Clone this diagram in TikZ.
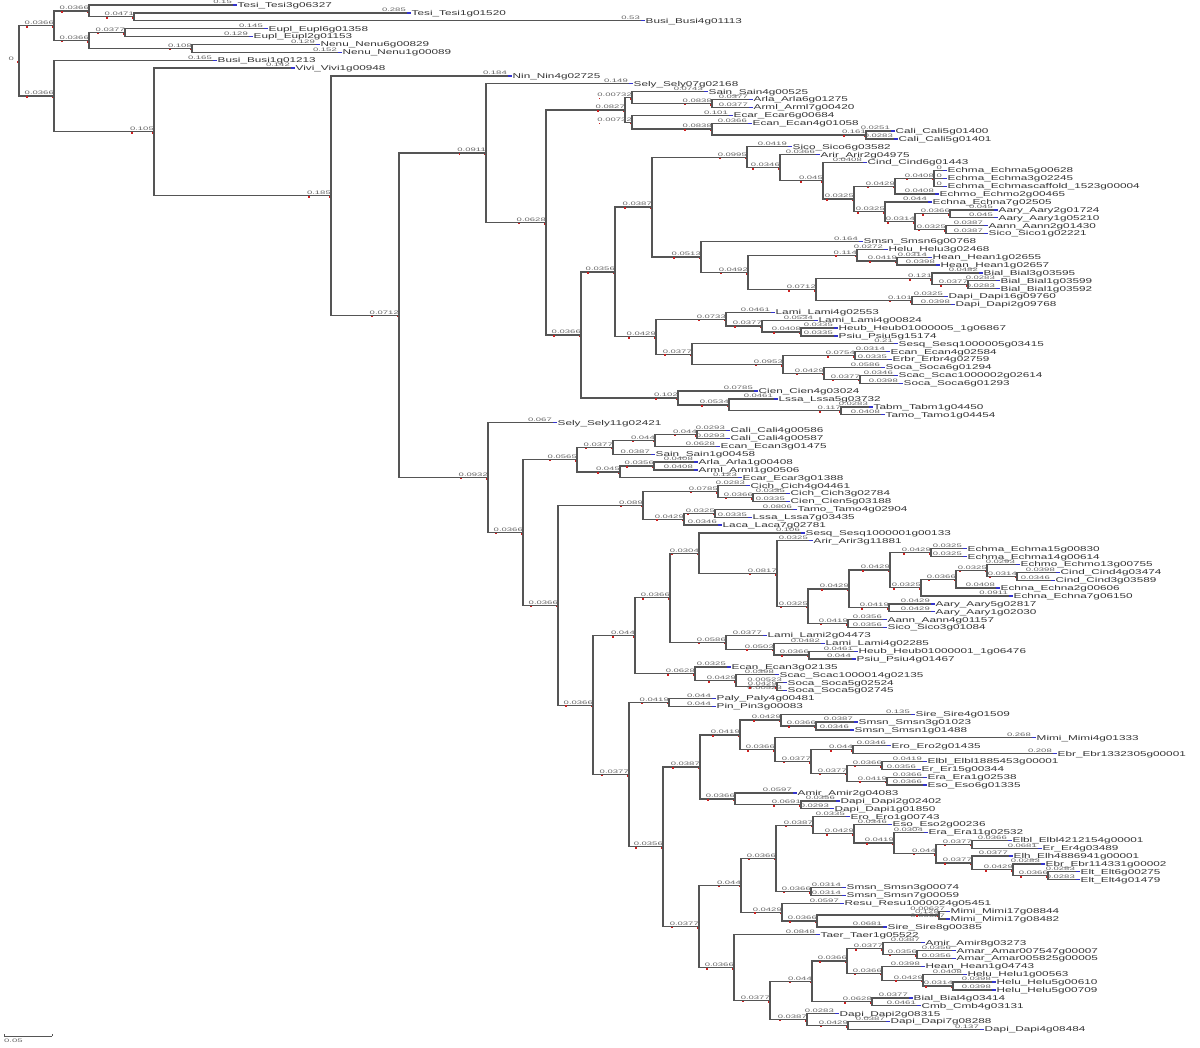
\documentclass[tikz,border=0pt]{standalone}
\usepackage{fontspec}
\newfontfamily\leaffont[FakeStretch=1.68]{Liberation Sans}
\newfontfamily\blfont[FakeStretch=1.9]{Liberation Sans}
\usetikzlibrary{calc}
\definecolor{brc}{HTML}{555555}
\definecolor{blc}{HTML}{666666}
\definecolor{lfc}{HTML}{333333}
\definecolor{tipblue}{HTML}{3333CC}
\definecolor{redc}{HTML}{CC2222}
\newdimen\dA \newdimen\dB
\tikzset{
  br/.style={draw=brc, line width=1.3pt, line cap=rect},
  bl/.style={anchor=south east, inner sep=0pt, yshift=0.9pt, font=\blfont\fontsize{5}{5}\selectfont, text=blc},
  leafl/.style={anchor=base west, inner sep=0pt, font=\leaffont\fontsize{7}{7}\selectfont, text=lfc},
  tipc/.style={draw=tipblue, line width=1.3pt},
}
\newcommand\lf[3]{%
  \coordinate (L#1) at (#2,{5+(#1-1)*7.88});%
  \expandafter\gdef\csname isleaf-L#1\endcsname{}%
  \draw[tipc] (L#1) -- ++(5,0);%
  \node[leafl] (T#1) at ($(L#1)+(5.5,2.4)$) {#3};%
}
\newcommand\brx[3]{%
  \draw[br] (#1 |- #2) -- (#2);%
  \node[bl] (bl-#2) at (#2) {#3};%
  \ifcsname isleaf-#2\endcsname\else
    \fill[redc] ($(bl-#2.south west)+(1.5,1.2)$) rectangle ++(1.6,1.6);%
  \fi
}
\newcommand\br[2]{%
  \pgfextractx{\dA}{\pgfpointanchor{#1}{center}}%
  \pgfextractx{\dB}{\pgfpointanchor{#2}{center}}%
  \pgfmathsetmacro\blv{(\the\dB-\the\dA)/955}%
  \pgfmathtruncatemacro\blp{\blv<0.001 ? 0 : (\blv<0.01 ? 5 : (\blv<0.1 ? 4 : 3))}%
  \brx{#1}{#2}{\pgfmathprintnumber[fixed,precision=\blp,assume math mode=true]{\blv}}%
}
\newcommand\nd[5][]{%
  \coordinate (#2mid) at ($(#4)!0.5!(#5)$);%
  \coordinate (#2) at (#3,0 |- #2mid);%
  \draw[br] (#2 |- #4) -- (#2 |- #5);%
  \ifx\relax#1\relax \br{#2}{#4}\br{#2}{#5}\else \brx{#2}{#4}{#1}\brx{#2}{#5}{#1}\fi
  \fill[redc] ($(#2)+(-2.2,0.5)$) rectangle ++(1.6,1.6);%
}
\begin{document}
\begin{tikzpicture}[x=1pt,y=-1pt]
\useasboundingbox (0,0) rectangle (1200,1048);
\fill[white] (0,0) rectangle (1200,1048);
% ---------- leaves ----------
\lf{1}{232}{Tesi\_Tesi3g06327}
\lf{2}{406}{Tesi\_Tesi1g01520}
\lf{3}{640}{Busi\_Busi4g01113}
\lf{4}{263}{Eupl\_Eupl6g01358}
\lf{5}{248}{Eupl\_Eupl2g01153}
\lf{6}{315}{Nenu\_Nenu6g00829}
\lf{7}{337}{Nenu\_Nenu1g00089}
\lf{8}{212}{Busi\_Busi1g01213}
\lf{9}{290}{Vivi\_Vivi1g00948}
\lf{10}{507}{Nin\_Nin4g02725}
\lf{11}{628}{Sely\_Sely07g02168}
\lf{12}{703}{Sain\_Sain4g00525}
\lf{13}{748}{Arla\_Arla6g01275}
\lf{14}{748}{Arml\_Arml7g00420}
\lf{15}{728}{Ecar\_Ecar6g00684}
\lf{16}{747}{Ecan\_Ecan4g01058}
\lf{17}{890}{Cali\_Cali5g01400}
\lf{18}{893}{Cali\_Cali5g01401}
\lf{19}{787}{Sico\_Sico6g03582}
\lf{20}{815}{Arir\_Arir2g04975}
\lf{21}{862}{Cind\_Cind6g01443}
\lf{22}{942}{Echma\_Echma5g00628}
\lf{23}{942}{Echma\_Echma3g02245}
\lf{24}{942}{Echma\_Echmascaffold\_1523g00004}
\lf{25}{934}{Echmo\_Echmo2g00465}
\lf{26}{927}{Echna\_Echna7g02505}
\lf{27}{993}{Aary\_Aary2g01724}
\lf{28}{993}{Aary\_Aary1g05210}
\lf{29}{983}{Aann\_Aann2g01430}
\lf{30}{983}{Sico\_Sico1g02221}
\lf{31}{858}{Smsn\_Smsn6g00768}
\lf{32}{883}{Helu\_Helu3g02468}
\lf{33}{927}{Hean\_Hean1g02655}
\lf{34}{935}{Hean\_Hean1g02657}
\lf{35}{978}{Bial\_Bial3g03595}
\lf{36}{995}{Bial\_Bial1g03599}
\lf{37}{995}{Bial\_Bial1g03592}
\lf{38}{943}{Dapi\_Dapi16g09760}
\lf{39}{950}{Dapi\_Dapi2g09768}
\lf{40}{770}{Lami\_Lami4g02553}
\lf{41}{813}{Lami\_Lami4g00824}
\lf{42}{833}{Heub\_Heub01000005\_1g06867}
\lf{43}{833}{Psiu\_Psiu5g15174}
\lf{44}{893}{Sesq\_Sesq1000005g03415}
\lf{45}{885}{Ecan\_Ecan4g02584}
\lf{46}{887}{Erbr\_Erbr4g02759}
\lf{47}{880}{Soca\_Soca6g01294}
\lf{48}{893}{Scac\_Scac1000002g02614}
\lf{49}{898}{Soca\_Soca6g01293}
\lf{50}{753}{Cien\_Cien4g03024}
\lf{51}{773}{Lssa\_Lssa5g03732}
\lf{52}{868}{Tabm\_Tabm1g04450}
\lf{53}{880}{Tamo\_Tamo1g04454}
\lf{54}{552}{Sely\_Sely11g02421}
\lf{55}{725}{Cali\_Cali4g00586}
\lf{56}{725}{Cali\_Cali4g00587}
\lf{57}{715}{Ecan\_Ecan3g01475}
\lf{58}{650}{Sain\_Sain1g00458}
\lf{59}{693}{Arla\_Arla1g00408}
\lf{60}{693}{Arml\_Arml1g00506}
\lf{61}{737}{Ecar\_Ecar3g01388}
\lf{62}{745}{Cich\_Cich4g04461}
\lf{63}{785}{Cich\_Cich3g02784}
\lf{64}{785}{Cien\_Cien5g03188}
\lf{65}{792}{Tamo\_Tamo4g02904}
\lf{66}{747}{Lssa\_Lssa7g03435}
\lf{67}{717}{Laca\_Laca7g02781}
\lf{68}{800}{Sesq\_Sesq1000001g00133}
\lf{69}{808}{Arir\_Arir3g11881}
\lf{70}{962}{Echma\_Echma15g00830}
\lf{71}{962}{Echma\_Echma14g00614}
\lf{72}{1015}{Echmo\_Echmo13g00755}
\lf{73}{1055}{Cind\_Cind4g03474}
\lf{74}{1050}{Cind\_Cind3g03589}
\lf{75}{995}{Echna\_Echna2g00606}
\lf{76}{1008}{Echna\_Echna7g06150}
\lf{77}{930}{Aary\_Aary5g02817}
\lf{78}{930}{Aary\_Aary1g02030}
\lf{79}{882}{Aann\_Aann4g01157}
\lf{80}{882}{Sico\_Sico3g01084}
\lf{81}{762}{Lami\_Lami2g04473}
\lf{82}{820}{Lami\_Lami4g02285}
\lf{83}{853}{Heub\_Heub01000001\_1g06476}
\lf{84}{851}{Psiu\_Psiu4g01467}
\lf{85}{726}{Ecan\_Ecan3g02135}
\lf{86}{774}{Scac\_Scac1000014g02135}
\lf{87}{782}{Soca\_Soca5g02524}
\lf{88}{782}{Soca\_Soca5g02745}
\lf{89}{711}{Paly\_Paly4g00481}
\lf{90}{711}{Pin\_Pin3g00083}
\lf{91}{910}{Sire\_Sire4g01509}
\lf{92}{853}{Smsn\_Smsn3g01023}
\lf{93}{849}{Smsn\_Smsn1g01488}
\lf{94}{1031}{Mimi\_Mimi4g01333}
\lf{95}{886}{Ero\_Ero2g01435}
\lf{96}{1052}{Ebr\_Ebr1332305g00001}
\lf{97}{922}{Elbl\_Elbl1885453g00001}
\lf{98}{916}{Er\_Er15g00344}
\lf{99}{922}{Era\_Era1g02538}
\lf{100}{922}{Eso\_Eso6g01335}
\lf{101}{792}{Amir\_Amir2g04083}
\lf{102}{835}{Dapi\_Dapi2g02402}
\lf{103}{829}{Dapi\_Dapi1g01850}
\lf{104}{845}{Ero\_Ero1g00743}
\lf{105}{887}{Eso\_Eso2g00236}
\lf{106}{923}{Era\_Era11g02532}
\lf{107}{1007}{Elbl\_Elbl4212154g00001}
\lf{108}{1037}{Er\_Er4g03489}
\lf{109}{1008}{Elh\_Elh4886941g00001}
\lf{110}{1040}{Ebr\_Ebr114331g00002}
\lf{111}{1075}{Elt\_Elt6g00275}
\lf{112}{1075}{Elt\_Elt4g01479}
\lf{113}{841}{Smsn\_Smsn3g00074}
\lf{114}{841}{Smsn\_Smsn7g00059}
\lf{115}{839}{Resu\_Resu1000024g05451}
\lf{116}{945}{Mimi\_Mimi17g08844}
\lf{117}{945}{Mimi\_Mimi17g08482}
\lf{118}{882}{Sire\_Sire8g00385}
\lf{119}{815}{Taer\_Taer1g05522}
\lf{120}{920}{Amir\_Amir8g03273}
\lf{121}{951}{Amar\_Amar007547g00007}
\lf{122}{951}{Amar\_Amar005825g00005}
\lf{123}{920}{Hean\_Hean1g04743}
\lf{124}{962}{Helu\_Helu1g00563}
\lf{125}{991}{Helu\_Helu5g00610}
\lf{126}{991}{Helu\_Helu5g00709}
\lf{127}{908}{Bial\_Bial4g03414}
\lf{128}{916}{Cmb\_Cmb4g03131}
\lf{129}{834}{Dapi\_Dapi2g08315}
\lf{130}{885}{Dapi\_Dapi7g08288}
\lf{131}{979}{Dapi\_Dapi4g08484}
% ---------- internal nodes, bottom-up ----------
\nd{C}{134}{L2}{L3}
\nd{B}{89}{L1}{C}
\nd{EU}{125}{L4}{L5}
\nd{NE}{192}{L6}{L7}
\nd{Cp}{89}{EU}{NE}
\nd{A}{54}{B}{Cp}
\nd{M}{712}{L13}{L14}
\nd{K}{632}{L12}{M}
\nd{O}{866}{L17}{L18}
\nd{N}{712}{L16}{O}
\nd{JL}{632}{L15}{N}
\nd{J}{625}{K}{JL}
\nd[0]{Y1}{934}{L22}{L24}
\brx{Y1}{L23}{0}
\nd{Y}{895}{Y1}{L25}
\nd{Z2}{950}{L27}{L28}
\nd{Z3}{946}{L29}{L30}
\nd{Z1}{915}{Z2}{Z3}
\nd{Z}{885}{L26}{Z1}
\nd{X}{854}{Y}{Z}
\nd{W}{823}{L21}{X}
\nd{V}{780}{L20}{W}
\nd{T}{747}{L19}{V}
\nd{U5}{897}{L33}{L34}
\nd{U3}{857}{L32}{U5}
\nd{U8}{968}{L36}{L37}
\nd{U6}{932}{L35}{U8}
\nd{U7}{912}{L38}{L39}
\nd{U4}{816}{U6}{U7}
\nd{U2}{748}{U3}{U4}
\nd{U}{701}{L31}{U2}
\nd{S}{652}{T}{U}
\nd{R4}{801}{L42}{L43}
\nd{R3}{762}{L41}{R4}
\nd{R1}{726}{L40}{R3}
\nd{R6}{855}{L45}{L46}
\nd{R8}{860}{L48}{L49}
\nd{R7}{824}{L47}{R8}
\nd{R5}{783}{R6}{R7}
\nd{R2}{692}{L44}{R5}
\nd{RR}{656}{R1}{R2}
\nd{Q}{615}{S}{RR}
\nd{P4}{841}{L52}{L53}
\nd{P3}{729}{L51}{P4}
\nd{P2}{678}{L50}{P3}
\nd{P}{581}{Q}{P2}
\nd{I}{546}{J}{P}
\nd{H}{486}{L11}{I}
\nd{H6b}{697}{L55}{L56}
\nd{H6a}{655}{H6b}{L57}
\nd{H6}{613}{H6a}{L58}
\nd{H7a}{654}{L59}{L60}
\nd{H7}{620}{H7a}{L61}
\nd{H4}{577}{H6}{H7}
\nd{H73}{753}{L63}{L64}
\nd{H71}{718}{L62}{H73}
\nd{H74}{715}{L65}{L66}
\nd{H72}{684}{H74}{L67}
\nd{H8}{643}{H71}{H72}
\nd{H22}{931}{L70}{L71}
\nd{H26}{1017}{L73}{L74}
\nd{H25}{987}{L72}{H26}
\nd{H24}{956}{H25}{L75}
\nd{H23}{921}{H24}{L76}
\nd{H20}{890}{H22}{H23}
\nd{H21}{889}{L77}{L78}
\nd{H18}{849}{H20}{H21}
\nd{H19}{848}{L79}{L80}
\nd{H17}{808}{H18}{H19}
\nd{H16}{777}{L69}{H17}
\nd{H14}{699}{L68}{H16}
\nd{H28}{809}{L83}{L84}
\nd{H27}{774}{L82}{H28}
\nd{H15}{726}{L81}{H27}
\nd{H12}{670}{H14}{H15}
\nd{H30}{777}{L87}{L88}
\nd{H29}{736}{L86}{H30}
\nd{H13}{695}{L85}{H29}
\nd{H10}{635}{H12}{H13}
\nd{H31}{669}{L89}{L90}
\nd{H38}{816}{L92}{L93}
\nd{H36}{781}{L91}{H38}
\nd{H40}{853}{L95}{L96}
\nd{H42}{882}{L97}{L98}
\nd{H43}{887}{L99}{L100}
\nd{H41}{847}{H42}{H43}
\nd{H39}{811}{H40}{H41}
\nd{H37}{775}{L94}{H39}
\nd{H34}{740}{H36}{H37}
\nd{H44}{801}{L102}{L103}
\nd{H35}{735}{L101}{H44}
\nd{H33}{700}{H34}{H35}
\nd{H57}{1048}{L111}{L112}
\nd{H56}{1013}{L110}{H57}
\nd{H55}{972}{L109}{H56}
\nd{H54}{972}{L107}{L108}
\nd{H53}{936}{H54}{H55}
\nd{H52}{894}{L106}{H53}
\nd{H51}{854}{L105}{H52}
\nd{H49}{813}{L104}{H51}
\nd{H50}{811}{L113}{L114}
\nd{H46}{776}{H49}{H50}
\nd{H59}{939}{L116}{L117}
\nd{H58}{817}{H59}{L118}
\nd{H48}{782}{L115}{H58}
\nd{H46p}{741}{H46}{H48}
\nd{H67}{917}{L121}{L122}
\nd{H65}{883}{L120}{H67}
\nd{H69}{953}{L125}{L126}
\nd{H68}{923}{L124}{H69}
\nd{H66}{882}{L123}{H68}
\nd{H63}{847}{H65}{H66}
\nd{H64}{872}{L127}{L128}
\nd{H61}{812}{H63}{H64}
\nd{H70}{848}{L130}{L131}
\nd{H62}{807}{L129}{H70}
\nd{H60}{770}{H61}{H62}
\nd{H47}{734}{L119}{H60}
\nd{H45}{699}{H46p}{H47}
\nd{H32}{663}{H33}{H45}
\nd{H11}{629}{H31}{H32}
\nd{H9}{593}{H10}{H11}
\nd{H5}{558}{H8}{H9}
\nd{H3}{523}{H4}{H5}
\nd{H2}{488}{L54}{H3}
\nd{G}{399}{H}{H2}
\nd{F}{331}{L10}{G}
\nd{E}{154}{L9}{F}
\nd{D}{54}{L8}{E}
\nd{RT}{19}{A}{D}
% root label
\node[bl, anchor=east] (rootlbl) at ($(RT)+(-5,-1)$) {0};
% scale bar
\coordinate (sb1) at (4,1036);
\coordinate (sb2) at (52,1036);
\draw[brc, line width=0.7pt] (sb1) -- (sb2);
\draw[brc, line width=0.7pt] (sb1) -- ++(0,-2.5);
\draw[brc, line width=0.7pt] (sb2) -- ++(0,-2.5);
\node[bl, anchor=north west, yshift=0pt] (sblbl) at (4,1039.5) {0.05};
\end{tikzpicture}
\end{document}
